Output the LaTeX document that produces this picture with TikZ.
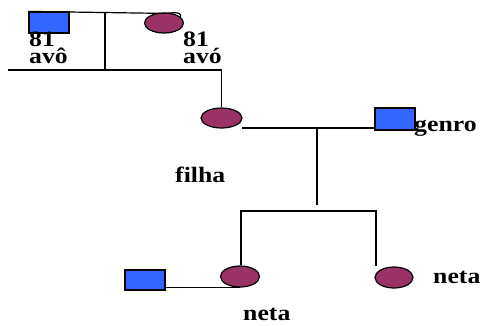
\documentclass[tikz,border=0pt]{standalone}
\usepackage{fontspec}
\setmainfont{Liberation Serif}[FakeStretch=1.17]
\usetikzlibrary{shapes.geometric}
\definecolor{mblue}{HTML}{3366FF}
\definecolor{maroon}{HTML}{993366}
\begin{document}
\begin{tikzpicture}[x=1pt,y=-1pt,
  male/.style={draw=black,line width=1.2pt,fill=mblue,rectangle,minimum width=40pt,minimum height=21pt,inner sep=0pt},
  female/.style={draw=black,line width=1.2pt,fill=maroon,ellipse,minimum width=39pt,minimum height=20pt,inner sep=0pt},
  lbl/.style={anchor=base west,inner sep=0pt,font=\fontsize{22}{22}\selectfont\bfseries},
  link/.style={line width=1.2pt}]
\useasboundingbox (0,0) rectangle (481,325);
% generation 1
\node[male] (avo1) at (49,22.5) {};
\node[female] (avo2) at (164,23) {};
\node[lbl] (t81a) at (29,46) {81};
\node[lbl] (tavo1) at (29,63) {avô};
\node[lbl] (t81b) at (183,46) {81};
\node[lbl] (tavo2) at (183,63) {avó};
\coordinate (m1) at (105,12);
\coordinate (m2) at (105,70);
\coordinate (l0) at (8,70);
% generation 2
\node[female,minimum width=41pt] (filha) at (221.5,118) {};
\node[male,minimum height=22pt] (genro) at (395,119) {};
\node[lbl] (tgenro) at (414,131) {genro};
\node[lbl] (tfilha) at (175,182) {filha};
\coordinate (c1) at (317,128);
\coordinate (c2) at (317,205);
% generation 3
\coordinate (b1) at (241,211);
\coordinate (b2) at (376,211);
\node[female,minimum height=21pt] (neta1) at (240,276.5) {};
\node[female,minimum height=21pt,minimum width=38pt] (neta2) at (394,277.5) {};
\node[male,minimum height=20pt] (marido) at (145,280) {};
\node[lbl] (tneta2) at (433,283) {neta};
\node[lbl] (tneta1) at (243,320) {neta};
% connectors
\draw[link] (avo1.north west) -- ([yshift=-1pt]avo2.north) to[out=0,in=80] (avo2.20);
\draw[link] (m1) -- (m2);
\draw[link] (l0) -- (filha.north |- l0) -- (filha.north);
\draw[link] ([xshift=-1pt]filha.east |- c1) -- (genro.west |- c1);
\draw[link] (c1) -- (c2);
\draw[link] (neta1.north |- b1) -- (b2) -- (b2 |- neta2.north);
\draw[link] (b1 |- neta1.north) -- (b1);
\draw[link] (marido.east |- neta1.south) -- (neta1.south);
\end{tikzpicture}
\end{document}
